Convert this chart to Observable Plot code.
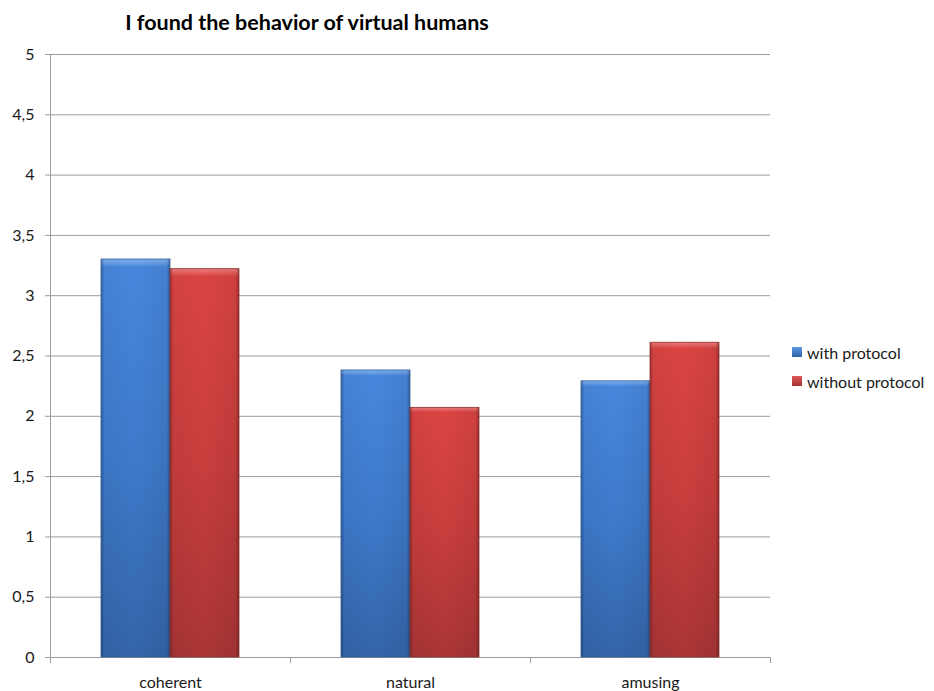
<!DOCTYPE html>
<html>
<head>
<meta charset="utf-8">
<script src="https://cdn.jsdelivr.net/npm/d3@7"></script>
<script src="https://cdn.jsdelivr.net/npm/@observablehq/plot@0.6"></script>
<style>
  body { margin: 0; background: #fff; font-family: Lato, "Open Sans", sans-serif; }
  #wrap { position: relative; width: 934px; height: 691px; overflow: hidden; }
  #title { position: absolute; left: 0; top: 9px; width: 614px; text-align: center; font-weight: bold; font-size: 21.5px; line-height: 26px; color: #000; z-index: 2; }
  #legend { position: absolute; left: 792px; top: 342px; font-size: 16px; color: #1a1a1a; z-index: 2; }
  .item { display: flex; align-items: center; height: 20px; margin-bottom: 9px; }
  .sw { width: 10px; height: 10px; margin-right: 5px; box-sizing: border-box; }
  #chart { position: absolute; left: 0; top: 0; }
</style>
</head>
<body>
<div id="wrap">
  <div id="title">I found the behavior of virtual humans</div>
  <div id="chart"></div>
  <div id="legend"></div>
</div>
<script>
const categories = ["coherent", "natural", "amusing"];
const seriesNames = ["with protocol", "without protocol"];
const withProtocol = [3.3, 2.38, 2.29];
const withoutProtocol = [3.22, 2.07, 2.61];
const yTicks = [0, 0.5, 1, 1.5, 2, 2.5, 3, 3.5, 4, 4.5, 5];
const seriesFills = ["url(#gBlue)", "url(#gRed)"];
const seriesStrokes = ["#2e5c98", "#8e2d2d"];
const legendSwatches = ["linear-gradient(#5f9ae6, #2f62a8)", "linear-gradient(#e05a5a, #a83232)"];

const rows = categories.flatMap((c, i) => [
  {category: c, series: seriesNames[0], value: withProtocol[i]},
  {category: c, series: seriesNames[1], value: withoutProtocol[i]}
]);

const plot = Plot.plot({
  width: 934,
  height: 691,
  marginLeft: 50,
  marginRight: 164,
  marginTop: 54,
  marginBottom: 34,
  style: {fontFamily: "Lato, 'Open Sans', sans-serif", fontSize: "16px", color: "#1a1a1a", background: "transparent"},
  fx: {domain: categories, padding: 0, label: null},
  x: {domain: seriesNames, paddingInner: 0, paddingOuter: 0.727, axis: null},
  y: {domain: [0, 5], label: null},
  marks: [
    Plot.ruleY(yTicks, {stroke: "#9c9c9c", strokeWidth: 1}),
    Plot.axisY({ticks: yTicks, tickFormat: d => String(d).replace(".", ","), tickSize: 5, tickPadding: 11, stroke: "#9c9c9c", fill: "#1a1a1a", label: null}),
    Plot.axisFx({anchor: "bottom", tickSize: 0, tickPadding: 19, label: null, fill: "#1a1a1a"}),
    ...seriesNames.flatMap((s, k) => {
      const sub = rows.filter(d => d.series === s);
      return [
        Plot.barY(sub, {fx: "category", x: "series", y: "value", fill: seriesFills[k]}),
        Plot.barY(sub, {fx: "category", x: "series", y: "value", fill: "url(#gSide)", stroke: seriesStrokes[k], strokeWidth: 0.8})
      ];
    })
  ]
});

const svg = d3.select(plot);
svg.insert("defs", ":first-child").html(`
  <linearGradient id="gBlue" x1="0" y1="0" x2="0" y2="1">
    <stop offset="0" stop-color="#7fb0ef"/>
    <stop offset="0.008" stop-color="#6ea3ea"/>
    <stop offset="0.02" stop-color="#4787dc"/>
    <stop offset="0.5" stop-color="#3e7acb"/>
    <stop offset="1" stop-color="#3465a9"/>
  </linearGradient>
  <linearGradient id="gRed" x1="0" y1="0" x2="0" y2="1">
    <stop offset="0" stop-color="#f07a7a"/>
    <stop offset="0.008" stop-color="#e76666"/>
    <stop offset="0.02" stop-color="#da4443"/>
    <stop offset="0.5" stop-color="#c83e3d"/>
    <stop offset="1" stop-color="#a93535"/>
  </linearGradient>
  <linearGradient id="gSide" x1="0" y1="0" x2="1" y2="0">
    <stop offset="0" stop-color="#000" stop-opacity="0.28"/>
    <stop offset="0.05" stop-color="#000" stop-opacity="0.04"/>
    <stop offset="0.5" stop-color="#000" stop-opacity="0"/>
    <stop offset="0.95" stop-color="#000" stop-opacity="0.06"/>
    <stop offset="1" stop-color="#000" stop-opacity="0.32"/>
  </linearGradient>`);

// Axis line and category-boundary ticks from the library's scales
const fx = plot.scale("fx"), y = plot.scale("y");
const y0 = y.apply(0), y5 = y.apply(5);
const bw = fx.bandwidth;
const left = fx.apply(categories[0]);
const g = svg.append("g").attr("stroke", "#9c9c9c").attr("stroke-width", 1);
g.append("line").attr("x1", left + 0.5).attr("x2", left + 0.5).attr("y1", y5).attr("y2", y0 + 6);
categories.forEach(c => {
  const xr = Math.round(fx.apply(c) + bw) + 0.5;
  g.append("line").attr("x1", xr).attr("x2", xr).attr("y1", y0).attr("y2", y0 + 6);
});

document.getElementById("chart").appendChild(plot);

const legend = document.getElementById("legend");
seriesNames.forEach((s, k) => {
  const item = document.createElement("div");
  item.className = "item";
  const sw = document.createElement("div");
  sw.className = "sw";
  sw.style.background = legendSwatches[k];
  const t = document.createElement("span");
  t.textContent = s;
  item.appendChild(sw);
  item.appendChild(t);
  legend.appendChild(item);
});
</script>
</body>
</html>
